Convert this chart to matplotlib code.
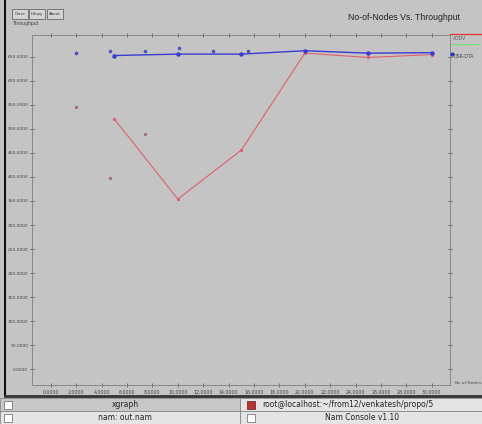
import matplotlib
matplotlib.use("Agg")
from matplotlib import pyplot as plt
from matplotlib.patches import Rectangle
from matplotlib.lines import Line2D

W, H = 482, 424

# data
nodes = [5, 10, 15, 20, 25, 30]
aodv = [521, 354, 456, 658, 649, 655]
dsr_dta = [653, 656, 656, 663, 658, 659]

# stray points drawn by xgraph without lines
blue_pts_x = [2.0, 4.65, 7.4, 10.1, 12.8, 15.55]
blue_pts_y = [658, 663, 662, 669, 662, 662]
red_pts_x = [2.0, 4.65, 7.4]
red_pts_y = [546, 398, 490]

yticks = list(range(0, 700, 50))
xticks = list(range(0, 32, 2))

bg = "#c4c4c4"

def fx(x):
    return x / W

def fy(y):
    return 1 - y / H

fig = plt.figure(figsize=(W / 100, H / 100), dpi=100)
fig.patch.set_facecolor(bg)

ax = fig.add_axes([fx(32), fy(385), (450 - 32) / W, (385 - 35) / H])
ax.set_facecolor(bg)
ax.set_xlim(-1.48, 31.43)
ax.set_ylim(-33.3, 695.8)

ax.plot(nodes, aodv, color="#e06070", lw=0.8, marker="o", ms=1.4)
ax.plot(nodes, dsr_dta, color="#3a3ad0", lw=1.0, marker="o", ms=2.2)
ax.plot(blue_pts_x, blue_pts_y, ls="none", marker="o", ms=1.6, color="#5050c0")
ax.plot(red_pts_x, red_pts_y, ls="none", marker="o", ms=1.4, color="#a07080")

ax.set_xticks(xticks)
ax.set_xticklabels(["%.4f" % v for v in xticks])
ax.set_yticks(yticks)
ax.set_yticklabels(["%.4f" % v for v in yticks])
ax.tick_params(axis="both", colors="#444444", length=3,
               width=0.5, direction="inout", top=True, right=True)
ax.tick_params(axis="x", labelsize=3.4, pad=2)
ax.tick_params(axis="y", labelsize=3.2, pad=1.2)
for s in ax.spines.values():
    s.set_color("#888888")
    s.set_linewidth(0.7)

# legend drawn the xgraph way, to the right of the plot
fig.add_artist(Line2D([fx(450), fx(481)], [fy(34), fy(34)], color="#e03030", lw=0.9))
fig.text(fx(453), fy(38), "AODV", fontsize=3.3, color="#555555", va="center")
fig.add_artist(Line2D([fx(452), fx(478)], [fy(44), fy(44)], color="#70e070", lw=0.8))
fig.add_artist(Line2D([fx(452)], [fy(54)], color="#3030c0", marker="o", ms=2))
fig.text(fx(454), fy(56), "DSR-DTA", fontsize=3.3, color="#444444", va="center")

fig.text(fx(460), fy(17), "No-of-Nodes Vs. Throughput", fontsize=6.3,
         ha="right", va="center", family="Liberation Sans", color="#222222")
fig.text(fx(12), fy(24), "Throughput", fontsize=3.3, color="#444444", va="center")
fig.text(fx(455), fy(383), "No-of-Nodes", fontsize=3.2, color="#555555", va="center")

# xgraph buttons
for x0, x1, label in [(12, 28, "Close"), (29, 45, "Hdcpy"), (47, 63, "About")]:
    fig.add_artist(Rectangle((fx(x0), fy(19)), (x1 - x0) / W, 10 / H,
                             facecolor="#d4d4d4", edgecolor="#555555", lw=0.5))
    fig.text(fx((x0 + x1) / 2), fy(14), label, fontsize=2.8, ha="center",
             va="center", color="#333333")

# window border
fig.add_artist(Line2D([fx(5), fx(5)], [fy(0), fy(396)], color="#111111", lw=1.5))
fig.add_artist(Line2D([fx(5), fx(482)], [fy(396), fy(396)], color="#333333", lw=2))

# taskbar
fig.add_artist(Rectangle((0, 0), 1, fy(398), facecolor="#e0e0e0", edgecolor="none"))
rows = [(398, 411, "xgraph", "root@localhost:~/from12/venkatesh/propo/5"),
        (411, 424, "nam: out.nam", "Nam Console v1.10")]
for i, (y0, y1, left, right) in enumerate(rows):
    fc = "#c8c8c8" if i == 0 else "#e4e4e4"
    fig.add_artist(Rectangle((0, fy(y1)), fx(240), (y1 - y0) / H,
                             facecolor=fc, edgecolor="#888888", lw=0.6))
    fig.add_artist(Rectangle((fx(240), fy(y1)), fx(242), (y1 - y0) / H,
                             facecolor="#e4e4e4", edgecolor="#888888", lw=0.6))
    yc = fy((y0 + y1) / 2)
    fig.add_artist(Rectangle((fx(4), yc - 4 / H), 8 / W, 8 / H,
                             facecolor="white", edgecolor="#666666", lw=0.5))
    fig.text(fx(125), yc, left, fontsize=5.5, ha="center", va="center", color="#222222")
    if i == 0:
        fig.add_artist(Rectangle((fx(247), yc - 4 / H), 8 / W, 8 / H,
                                 facecolor="#c03030", edgecolor="#602020", lw=0.5))
    else:
        fig.add_artist(Rectangle((fx(247), yc - 4 / H), 8 / W, 8 / H,
                                 facecolor="white", edgecolor="#666666", lw=0.5))
    fig.text(fx(262) if i == 0 else fx(362), yc, right, fontsize=5.5,
             ha="left" if i == 0 else "center", va="center", color="#222222")

fig.savefig("out.png", dpi=100, facecolor=fig.get_facecolor())
